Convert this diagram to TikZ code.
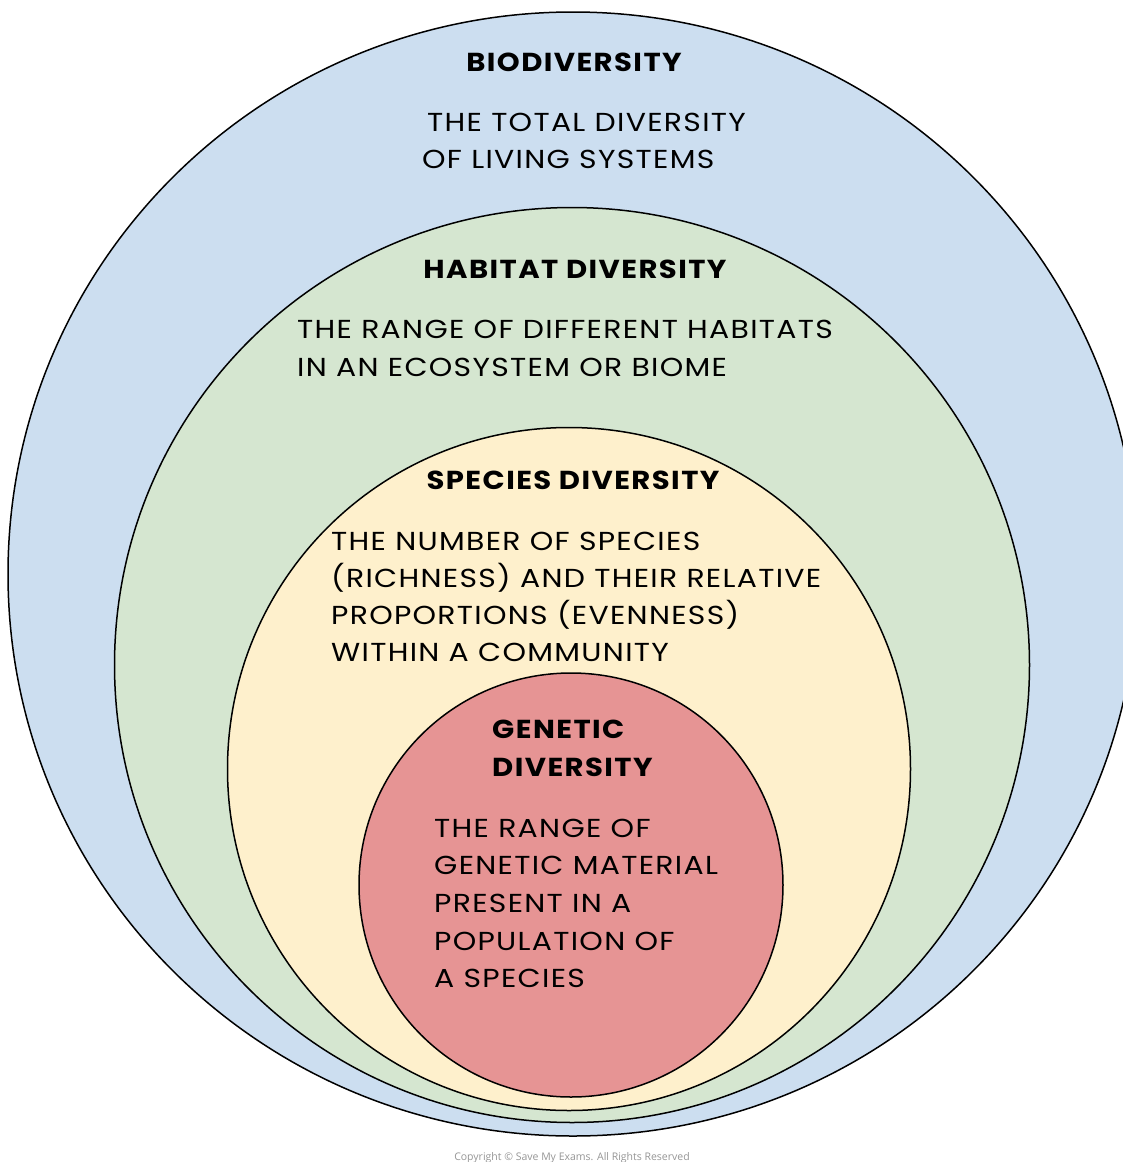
\documentclass[tikz,border=0pt]{standalone}
\usepackage{fontspec}
\setmainfont{Poppins}
\newfontfamily\bodyfont{Poppins}[FakeStretch=1.15,LetterSpace=5]
\newfontfamily\headfont{Poppins}[FakeStretch=1.12,LetterSpace=5.5]
\newfontfamily\copyfont{Open Sans}
\usetikzlibrary{shapes.geometric}
\definecolor{bioblue}{RGB}{204,222,240}
\definecolor{habgreen}{RGB}{213,230,208}
\definecolor{speyellow}{RGB}{254,240,204}
\definecolor{genred}{RGB}{230,148,148}
\definecolor{copygray}{RGB}{150,150,150}
\tikzset{
  ring/.style={draw=black, line width=1.5pt, inner sep=0pt},
  headtxt/.style={font=\headfont\fontsize{26}{30}\selectfont\bfseries, inner sep=0pt, text=black},
  bodytxt/.style={font=\bodyfont\fontsize{26}{30}\selectfont, inner sep=0pt, anchor=base west, text=black},
}
\begin{document}
\begin{tikzpicture}[x=1pt,y=-1pt]
\useasboundingbox (0,0) rectangle (1123,1162);
\clip (0,0) rectangle (1123,1162);
\fill[white] (0,0) rectangle (1123,1162);
% nested circles
\node[ring, ellipse, fill=bioblue, minimum width=1130pt, minimum height=1124pt] (bio) at (573,574) {};
\node[ring, circle, fill=habgreen, minimum size=915pt] (hab) at (572,665) {};
\node[ring, circle, fill=speyellow, minimum size=683pt] (spe) at (569,769) {};
\node[ring, circle, fill=genred, minimum size=424pt] (gen) at (571,885) {};
% biodiversity
\node[headtxt, anchor=base] (bioh) at (574,71) {BIODIVERSITY};
\node[bodytxt] (biob1) at (427,131) {THE TOTAL DIVERSITY};
\node[bodytxt] (biob2) at (422,168) {OF LIVING SYSTEMS};
% habitat
\node[headtxt, anchor=base] (habh) at (575,278) {HABITAT DIVERSITY};
\node[bodytxt] (habb1) at (297,338) {THE RANGE OF DIFFERENT HABITATS};
\node[bodytxt] (habb2) at (297,376) {IN AN ECOSYSTEM OR BIOME};
% species
\node[headtxt, anchor=base] (speh) at (573,489) {SPECIES DIVERSITY};
\node[bodytxt] (speb1) at (331,550) {THE NUMBER OF SPECIES};
\node[bodytxt] (speb2) at (331,587) {(RICHNESS) AND THEIR RELATIVE};
\node[bodytxt] (speb3) at (331,624) {PROPORTIONS (EVENNESS)};
\node[bodytxt] (speb4) at (331,661) {WITHIN A COMMUNITY};
% genetic
\node[headtxt, anchor=base west] (genh1) at (492,738) {GENETIC};
\node[headtxt, anchor=base west] (genh2) at (492,776) {DIVERSITY};
\node[bodytxt] (genb1) at (434,837) {THE RANGE OF};
\node[bodytxt] (genb2) at (434,874) {GENETIC MATERIAL};
\node[bodytxt] (genb3) at (434,912) {PRESENT IN A};
\node[bodytxt] (genb4) at (434,950) {POPULATION OF};
\node[bodytxt] (genb5) at (434,987) {A SPECIES};
% copyright
\node[font=\copyfont\fontsize{10.5}{12}\selectfont, text=copygray, anchor=base, inner sep=0pt] (copy) at (572,1160) {Copyright \textcopyright{} Save My Exams. All Rights Reserved};
\end{tikzpicture}
\end{document}
